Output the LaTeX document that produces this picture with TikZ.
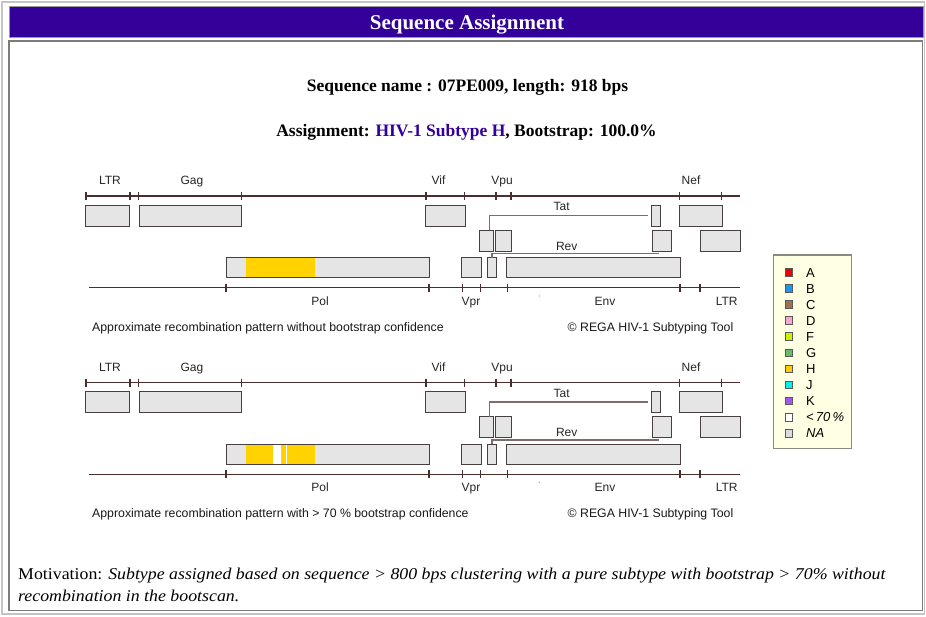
\documentclass[tikz,border=0pt]{standalone}
\usepackage{fontspec}
\setmainfont{Liberation Serif}
\newfontfamily\arialfont{Liberation Sans}
\usetikzlibrary{calc}
\definecolor{hdrpurple}{HTML}{330099}
\definecolor{boxfill}{HTML}{E5E5E5}
\definecolor{boxline}{HTML}{464040}
\definecolor{axiscol}{HTML}{4A2E2E}
\definecolor{conncol}{HTML}{806C6C}
\definecolor{hyellow}{HTML}{FFD200}
\definecolor{legfill}{HTML}{FFFFE3}
\definecolor{leggray}{HTML}{8A8A80}
\definecolor{legA}{HTML}{EE0000}
\definecolor{legB}{HTML}{1E96F0}
\definecolor{legC}{HTML}{A07050}
\definecolor{legD}{HTML}{F8A8D0}
\definecolor{legF}{HTML}{CCF000}
\definecolor{legG}{HTML}{66BB66}
\definecolor{legH}{HTML}{FFCC00}
\definecolor{legJ}{HTML}{00F0F0}
\definecolor{legK}{HTML}{AA55EE}
\definecolor{legNA}{HTML}{DDDDDD}
\definecolor{framegray}{HTML}{C4C4C4}
\definecolor{boxgray}{HTML}{7C7C7C}
\tikzset{
  gbox/.style={draw=boxline, fill=boxfill, line width=1pt, inner sep=0pt, outer sep=0pt, rectangle},
  axisline/.style={draw=axiscol, line width=1.1pt},
  conn/.style={draw=conncol, line width=1.6pt},
  glabel/.style={font=\arialfont\fontsize{12}{14}\selectfont, text=black!85, inner sep=0pt},
  caplabel/.style={font=\arialfont\fontsize{12.3}{14}\selectfont, text=black!90, inner sep=0pt},
  legsq/.style={draw=black!65, line width=0.7pt, minimum size=7.8pt, inner sep=0pt, rectangle},
  legtxt/.style={font=\arialfont\fontsize{13}{15}\selectfont, anchor=base west, inner sep=0pt}
}
\newcommand\gbox[5]{\node[gbox, minimum width={#4-#2}, minimum height={#5-#3}] (#1) at ({(#2+#4)/2},{(#3+#5)/2}) {};}
\newcommand\genomepanel[4]{%
\begin{scope}[shift={(0,#2)}]
  % axes
  \coordinate (#1ta) at (86,196); \coordinate (#1tb) at (740,196);
  \draw[axisline] (#1ta) -- (#1tb);
  \foreach \tx in {86,130,138.3,241.7,426,464.3,496,511,679.3,721.7}
    \draw[axisline] (\tx,192) -- (\tx,200);
  \coordinate (#1ba) at (89.3,287.7); \coordinate (#1bb) at (740,287.7);
  \draw[axisline] (#1ba) -- (#1bb);
  \foreach \tx in {226,429,462.3,480.3,507.3,680,700}
    \draw[axisline] (\tx,283.7) -- (\tx,291.7);
  % top labels
  \node[glabel, anchor=base] (#1lLTRa) at (110,184.5) {LTR};
  \node[glabel, anchor=base] (#1lGag) at (192,184.5) {Gag};
  \node[glabel, anchor=base] (#1lVif) at (438.5,184.5) {Vif};
  \node[glabel, anchor=base] (#1lVpu) at (502,184.5) {Vpu};
  \node[glabel, anchor=base] (#1lNef) at (691,184.5) {Nef};
  % row 1
  \gbox{#1LTRa}{85}{205}{129.3}{226}
  \gbox{#1Gag}{139}{205}{241.7}{226}
  \gbox{#1Vif}{425.7}{205}{465.3}{226}
  \gbox{#1Tat2}{651}{205}{660}{226}
  \gbox{#1Nef}{679}{205}{722.3}{226}
  % row 2
  \gbox{#1Tat1}{479.3}{230}{493.3}{251}
  \gbox{#1Rev1}{495.3}{230}{511.7}{251}
  \gbox{#1Rev2}{652.7}{230}{671}{251}
  \gbox{#1LTRb}{700}{230}{740}{251}
  % row 3
  \gbox{#1Pol}{226.7}{257.7}{429}{277.7}
  #4
  \draw[boxline, line width=1pt] (#1Pol.south west) rectangle (#1Pol.north east);
  \gbox{#1Vpr}{461.7}{257.7}{481}{277.7}
  \gbox{#1Vpu}{487.7}{257.7}{496}{277.7}
  \gbox{#1Env}{506.7}{257.7}{680}{277.7}
  % Tat / Rev connectors
  \draw[conn] ([xshift=3pt]#1Tat1.north) |- ([xshift=-2.7pt]#1Tat2.west);
  \draw[conn] (#1Vpu.north) |- ([xshift=-2.5pt,yshift=-2.3pt]#1Rev2.south);
  \node[glabel, anchor=base] (#1lTat) at (561.7,210.7) {Tat};
  \node[glabel, anchor=base] (#1lRev) at (566.7,250) {Rev};
  % bottom labels
  \node[glabel, anchor=base] (#1lPol) at (320,305) {Pol};
  \node[glabel, anchor=base] (#1lVpr) at (471,305) {Vpr};
  \node[glabel, anchor=base] (#1lEnv) at (605,305) {Env};
  \node[glabel, anchor=base] (#1lLTRc) at (726.7,305) {LTR};
  \fill[black!45] (539.3,296) circle (0.6);
  % captions
  \node[caplabel, anchor=base west] (#1cap) at (92,331) {Approximate recombination pattern #3};
  \node[caplabel, anchor=base east] (#1copy) at (733.5,331) {© REGA HIV-1 Subtyping Tool};
\end{scope}}
\begin{document}
\begin{tikzpicture}[x=1pt,y=-1pt]
\useasboundingbox (0,0) rectangle (926,616);
\fill[white] (0,0) rectangle (926,616);
% frames
\draw[framegray, line width=1.5pt] (2.2,2.2) rectangle (924.3,613.8);
\draw[draw=black!40, fill=hdrpurple, line width=0.8pt] (9,6.5) rectangle (923.3,37.5);
\draw[boxgray, line width=1.6pt] (8.8,41.2) rectangle (922.3,610.5);
% header texts
\node[font=\bfseries\fontsize{21}{24}\selectfont, text=white, anchor=base, inner sep=0pt] (title) at (467,29) {Sequence Assignment};
\node[font=\bfseries\fontsize{17.5}{20}\selectfont, anchor=base, inner sep=0pt] (seqname) at (467.5,91) {Sequence name : 07PE009, length: 918 bps};
\node[font=\bfseries\fontsize{17.5}{20}\selectfont, anchor=base, inner sep=0pt] (assign) at (466.5,136) {Assignment: \textcolor{hdrpurple}{HIV-1 Subtype H}, Bootstrap: 100.0\%};
% panels
\genomepanel{a}{0}{without bootstrap confidence}{\fill[hyellow] (245.7,257.7) rectangle (315.3,277.7);}
\genomepanel{b}{186.5}{with > 70 \% bootstrap confidence}{\fill[white] (273.3,257.7) rectangle (287.3,277.7);
  \fill[hyellow] (245.7,257.7) rectangle (273.3,277.7);
  \fill[hyellow] (280.5,257.7) rectangle (286,277.7);
  \fill[hyellow] (287.3,257.7) rectangle (315.3,277.7);}
% legend
\node[draw=leggray, fill=legfill, line width=1.2pt, minimum width=78.4pt, minimum height=193.3pt, inner sep=0pt, rectangle] (legend) at (812.5,351.65) {};
\foreach \c/\lab [count=\i from 0] in {legA/A, legB/B, legC/C, legD/D, legF/F, legG/G, legH/H, legJ/J, legK/K, white/{\itshape <\,70\,\%}, legNA/{\itshape NA}}{
  \node[legsq, fill=\c] (sq\i) at (788.8,{272.5+16.05*\i}) {};
  \node[legtxt] (lt\i) at (806,{277.2+16.05*\i}) {\lab};
}
% motivation
\node[font=\fontsize{16.5}{19}\selectfont, anchor=base west, inner sep=0pt] (mot1) at (18,579.5) {\scalebox{1.08}[1]{Motivation: \textit{Subtype assigned based on sequence > 800 bps clustering with a pure subtype with bootstrap > 70\% without}}};
\node[font=\fontsize{16.5}{19}\selectfont, anchor=base west, inner sep=0pt] (mot2) at (18,601) {\scalebox{1.08}[1]{\textit{recombination in the bootscan.}}};
\end{tikzpicture}
\end{document}
